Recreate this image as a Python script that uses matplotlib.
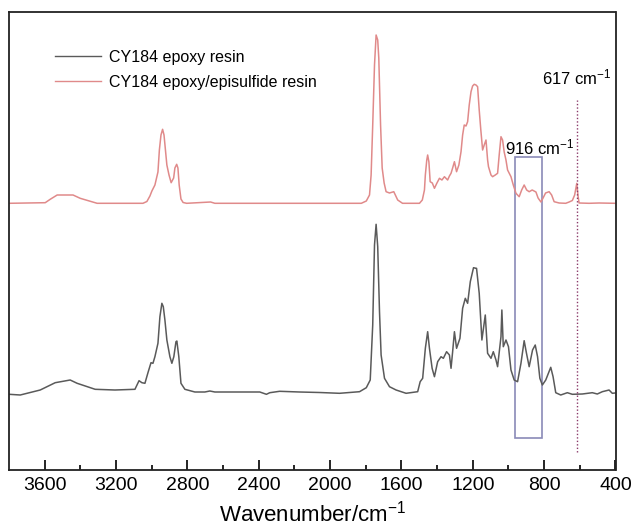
import matplotlib
matplotlib.use("Agg")
import matplotlib.pyplot as plt
from matplotlib.patches import Rectangle
from matplotlib.lines import Line2D

plt.rcParams['font.family'] = ['Liberation Sans', 'DejaVu Sans']
plt.rcParams['mathtext.fontset'] = 'custom'
plt.rcParams['mathtext.rm'] = 'Liberation Sans'
plt.rcParams['mathtext.it'] = 'Liberation Sans'

# ---- data (wavenumber, offset absorbance in arbitrary units) ----
red_wn = [3799, 3597, 3569, 3530, 3441, 3401, 3306, 3049, 3027, 3010, 2999, 2982,
          2965, 2957, 2948, 2939, 2931, 2923, 2915, 2903, 2891, 2877, 2870, 2860,
          2853, 2846, 2836, 2824, 2804, 2670, 2646, 1835, 1825, 1797, 1779, 1770,
          1761, 1751, 1742, 1733, 1727, 1717, 1708, 1697, 1686, 1667, 1643, 1621,
          1594, 1499, 1483, 1471, 1466, 1458, 1453, 1446, 1439, 1427, 1415, 1401,
          1387, 1373, 1359, 1341, 1331, 1322, 1313, 1303, 1291, 1278, 1266, 1257,
          1248, 1238, 1229, 1220, 1210, 1201, 1192, 1182, 1173, 1164, 1155, 1145,
          1136, 1126, 1117, 1112, 1098, 1089, 1074, 1061, 1052, 1042, 1033, 1024,
          1014, 1005, 986, 973, 958, 940, 926, 912, 898, 884, 867, 846, 834, 818,
          806, 792, 772, 758, 744, 716, 679, 660, 642, 629, 617, 610, 604, 548,
          492, 403]
red_ab = [266.7, 267.3, 270.7, 275, 275, 271.7, 266.7, 266.7, 268.5, 274, 279, 285,
          298, 320, 335, 340.7, 335, 320, 305, 295, 287.3, 292, 302, 305.7,
          302, 285, 271, 267.5, 266.7, 268, 266.7, 266.7, 266.7, 269, 275, 295,
          345, 405, 435, 430, 412, 345, 302, 287, 278.3, 277, 278.3, 270,
          266.7, 266.7, 270, 280, 295, 310, 315, 308, 288.3, 287, 281.7, 287,
          291.7, 290, 293.3, 290, 294, 296.7, 302, 308.3, 298.3, 305, 318.3, 335,
          345, 344, 348.3, 365, 378.3, 384, 385.7, 385, 383.3, 360, 340, 320,
          325, 330, 310, 303.3, 295, 293.3, 295, 296.7, 315, 333.3, 330, 318,
          310, 300, 293.3, 285, 276.7, 273.3, 280, 285, 280, 278.3, 280, 278, 272, 268,
          272, 277, 278.3, 275, 268.3, 267, 266.7, 268, 269.5, 275, 286.7, 274, 267, 266.7,
          267, 266.7]

black_wn = [3799, 3737, 3625, 3541, 3457, 3418, 3317, 3206, 3094, 3071, 3055, 3038,
            3021, 3004, 2993, 2982, 2965, 2954, 2943, 2935, 2926, 2915, 2898, 2887,
            2876, 2864, 2859, 2848, 2836, 2814, 2758, 2702, 2674, 2646, 2394, 2357,
            2338, 2283, 2171, 2059, 1947, 1835, 1797, 1775, 1761, 1751, 1742, 1733,
            1723, 1714, 1695, 1667, 1630, 1574, 1509, 1495, 1481, 1466, 1453, 1443,
            1428, 1415, 1397, 1378, 1365, 1347, 1331, 1322, 1313, 1303, 1291, 1272,
            1257, 1242, 1229, 1214, 1196, 1182, 1179, 1164, 1149, 1130, 1117, 1098,
            1085, 1070, 1061, 1042, 1037, 1029, 1014, 1000, 986, 968, 949, 930,
            912, 899, 884, 865, 850, 837, 824, 810, 791, 763, 750, 735, 707, 670,
            642, 586, 530, 502, 474, 436, 418, 403]
black_ab = [75.7, 75, 80, 87.3, 90, 86.7, 80.7, 80, 80.7, 89.3, 87.3, 86.7,
            97.3, 107.3, 106.7, 113.3, 126.7, 153.3, 166.7, 163.3, 150, 130, 113.3, 106.7,
            113.3, 128.3, 129, 113.3, 86.7, 80.7, 78, 78, 79, 78, 78, 75.7,
            77.3, 78.7, 78, 77.5, 76.7, 78.3, 82.3, 90, 145, 225, 245.7, 223.3,
            158.3, 115, 91.7, 83.3, 80, 76.7, 78.3, 88.3, 91.7, 121.7, 138.3, 121.7,
            101.7, 93.3, 108.3, 113.3, 111.7, 118.3, 115, 101.7, 118.3, 138.3, 121.7, 131.7,
            161.7, 171.7, 166.7, 188.3, 202.3, 201.7, 201.7, 176.7, 130, 155, 116.7, 111.7,
            118.3, 110, 103.3, 133.3, 160, 123.3, 130, 123.3, 100, 90, 88.3, 106.7,
            129.3, 116.7, 103.3, 120, 125, 113.3, 91.7, 85, 90, 102.7, 93.3, 77.3, 75, 77.3,
            75.7, 76, 77.3, 76, 78.3, 80, 76.7, 77]

legend_labels = ["CY184 epoxy resin", "CY184 epoxy/episulfide resin"]
x_ticks = [3600, 3200, 2800, 2400, 2000, 1600, 1200, 800, 400]
box_wn = (964, 810)
box_ab = (32.3, 313.3)
line_wn = 617
line_ab = (18, 370)
ann_617 = "617 cm$^{-1}$"
ann_916 = "916 cm$^{-1}$"

# ---- figure ----
fig = plt.figure(figsize=(6.34, 5.28), dpi=100)
ax = fig.add_axes([9/634, 1 - 470/528, 606.5/634, 458/528])

ax.plot(black_wn, black_ab, color='#5a5a5a', lw=1.1)
ax.plot(red_wn, red_ab, color='#e08a8a', lw=1.1)

ax.add_patch(Rectangle((box_wn[1], box_ab[0]), box_wn[0] - box_wn[1], box_ab[1] - box_ab[0],
                       fill=False, edgecolor='#8a8ab8', lw=1.2))
ax.plot([line_wn, line_wn], list(line_ab), color='#8b3a6a', lw=1.0, ls=(0, (1, 1.5)))

ax.text(811, 393, ann_617, fontsize=12, ha='left', va='center')
ax.text(1018, 323, ann_916, fontsize=12, ha='left', va='center')

handles = [Line2D([], [], color='#5a5a5a', lw=1.0), Line2D([], [], color='#e08a8a', lw=1.0)]
ax.legend(handles, legend_labels, loc='upper left', bbox_to_anchor=(0.0758, 0.917),
          frameon=False, fontsize=11.5, handlelength=2.9, handletextpad=0.5,
          labelspacing=0.6, borderpad=0, borderaxespad=0)

ax.set_xlim(3800, 400)
ax.set_ylim(0, 458)
ax.set_xticks(x_ticks)
ax.set_xticks(list(range(3400, 400, -400)), minor=True)
ax.set_yticks([])
ax.tick_params(axis='x', which='major', direction='in', length=7, width=1.2,
               labelsize=14, pad=5, top=False)
ax.tick_params(axis='x', which='minor', direction='in', length=3.5, width=1.2, top=False)
for s in ax.spines.values():
    s.set_linewidth(1.3)
    s.set_color('#222222')
ax.set_xlabel("Wavenumber/cm$^{-1}$", fontsize=16, labelpad=5)

fig.savefig("out.png", dpi=100)
